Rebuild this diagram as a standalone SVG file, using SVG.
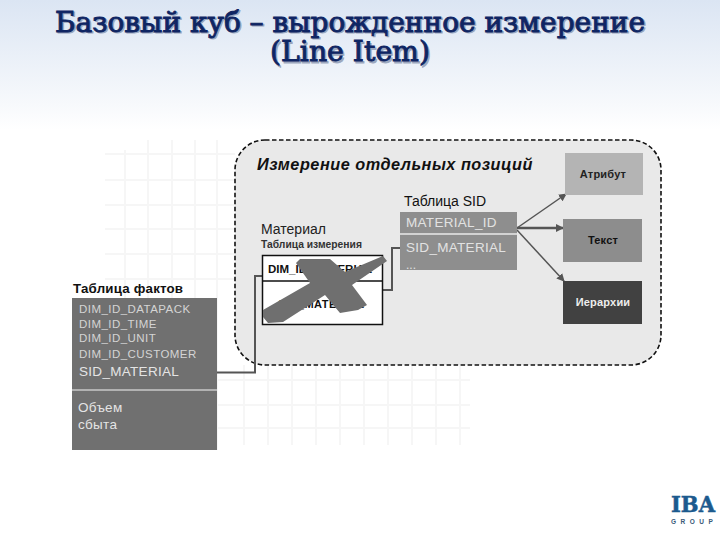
<svg xmlns="http://www.w3.org/2000/svg" width="720" height="540" viewBox="0 0 720 540">
<style>
.s{font-family:"Liberation Sans",Arial,sans-serif}
.title{font-family:"DejaVu Serif",serif;font-size:27px;fill:#0f2563;stroke:#0f2563;stroke-width:.9px;text-anchor:middle}
.shadow{fill:#5d6c8e;stroke:#5d6c8e;opacity:.55}
.fl{font-size:11.5px;fill:#d4d4d4;letter-spacing:.45px}
.wl{font-size:13.5px;fill:#e4e4e4;letter-spacing:.3px}
.box{font-size:11px;font-weight:bold;text-anchor:middle;letter-spacing:.2px}
.con{fill:none;stroke:#555}
.grid{fill:none;stroke:#f6f6f6;stroke-width:2}
</style>
<defs>
<linearGradient id="bg" x1="0" y1="0" x2="0" y2="1"><stop offset="0" stop-color="#dbe5f3"/><stop offset=".8" stop-color="#f7f9fc"/><stop offset="1" stop-color="#fff"/></linearGradient>
<marker id="ah" markerWidth="8" markerHeight="8" refX="7" refY="4" orient="auto" markerUnits="userSpaceOnUse"><path d="M0 0L8 4L0 8Z" fill="#555"/></marker>
</defs>
<rect width="720" height="540" fill="#fff"/>
<rect width="720" height="130" fill="url(#bg)"/>
<g id="title">
<text class="title shadow" x="351.500" y="33" textLength="590" lengthAdjust="spacingAndGlyphs">Базовый куб – вырожденное измерение</text>
<text class="title shadow" x="351.500" y="62.500" textLength="160" lengthAdjust="spacingAndGlyphs">(Line Item)</text>
<text class="title" x="350" y="31.500" textLength="590" lengthAdjust="spacingAndGlyphs">Базовый куб – вырожденное измерение</text>
<text class="title" x="350" y="61" textLength="160" lengthAdjust="spacingAndGlyphs">(Line Item)</text>
</g>
<path id="grid" class="grid" d="M125 150V450M148 140V450M172 140V450M195 140V450M217 140V450M244 365V445M268 365V445M292 365V445M316 365V445M340 365V445M364 365V445M388 365V445M412 365V445M436 365V445M460 365V445M105 154H235M105 180H235M105 205H235M105 229H235M105 254H235M105 279H235M217 380H470M217 405H470M217 428H470"/>
<g id="panel"><rect x="235" y="140" width="426" height="225" rx="30" fill="#e9e9e9" stroke="#111" stroke-width="1.600" stroke-dasharray="4.500 2.500"/>
<text class="s" x="257" y="170" font-size="16.300" font-weight="bold" font-style="italic" fill="#111" letter-spacing=".5">Измерение отдельных позиций</text></g>
<g id="connectors">
<path class="con" stroke-width="2" d="M217 372.500H255V276H262"/>
<path class="con" stroke-width="2" d="M383 290H392V248H400"/>
<path class="con" stroke-width="1.500" marker-end="url(#ah)" d="M517 228L566 194"/>
<path class="con" stroke-width="2.500" marker-end="url(#ah)" d="M517 228H563"/>
<path class="con" stroke-width="1.500" marker-end="url(#ah)" d="M517 230L564 281"/>
</g>
<g id="attr"><rect x="565" y="153" width="78" height="42" fill="#b4b4b4"/><text class="s box" x="603" y="178" fill="#222">Атрибут</text></g>
<g id="text"><rect x="563" y="219" width="79" height="43" fill="#8d8d8d"/><text class="s box" x="603" y="244" fill="#111">Текст</text></g>
<g id="hier"><rect x="563" y="281" width="79" height="43" fill="#414141"/><text class="s box" x="603" y="306" fill="#eee">Иерархии</text></g>
<g id="sid"><text class="s" x="404" y="206" font-size="14" fill="#111">Таблица SID</text>
<rect x="400" y="212" width="117" height="58" fill="#8e8e8e"/><path d="M400 234H517" stroke="#e8e8e8" stroke-width="1.500"/>
<text class="s" x="406" y="227" font-size="13.500" fill="#e2e2e2" letter-spacing=".3">MATERIAL_ID</text>
<text class="s" x="406" y="252" font-size="13.500" fill="#e2e2e2" letter-spacing=".3">SID_MATERIAL</text>
<text class="s" x="406" y="269" font-size="12" fill="#e2e2e2">...</text></g>
<g id="dim"><text class="s" x="261" y="234" font-size="14" fill="#222">Материал</text>
<text class="s" x="261" y="248" font-size="10.300" font-weight="bold" fill="#333">Таблица измерения</text>
<rect x="262.500" y="255.500" width="120" height="69" fill="#fff" stroke="#111" stroke-width="1.500"/><path d="M262 281H383" stroke="#111" stroke-width="1.500"/>
<text class="s" x="268" y="273" font-size="11.500" font-weight="bold" fill="#111">DIM_ID_MATERIAL</text>
<text class="s" x="278" y="308" font-size="11" font-weight="bold" fill="#111" letter-spacing=".5">SID_MATERIAL</text>
<path d="M263 310L310 283L296 263L300 259L330 259L345 272L383 256L387 261L352 285L367 305L358 310L340 313L325 295L283 322L268 323L263 317Z" fill="#6f6f6f"/></g>
<g id="fact"><text class="s" x="73" y="293" font-size="13.300" font-weight="bold" fill="#111" letter-spacing=".2">Таблица фактов</text>
<rect x="72" y="298" width="145" height="152" fill="#707070"/><path d="M72 390H217" stroke="#c8c8c8" stroke-width="1.500"/>
<text class="s fl" x="79" y="313">DIM_ID_DATAPACK</text>
<text class="s fl" x="79" y="328">DIM_ID_TIME</text>
<text class="s fl" x="79" y="342">DIM_ID_UNIT</text>
<text class="s fl" x="79" y="358">DIM_ID_CUSTOMER</text>
<text class="s wl" x="79" y="376">SID_MATERIAL</text>
<text class="s wl" x="78" y="412">Объем</text>
<text class="s wl" x="78" y="429">сбыта</text></g>
<g id="logo"><text x="671" y="512" font-family="'DejaVu Serif',serif" font-weight="bold" font-size="22" fill="#1c5a8e" stroke="#1c5a8e" stroke-width=".5" textLength="44" lengthAdjust="spacingAndGlyphs">IBA</text>
<text class="s" x="671" y="524" font-size="6.500" font-weight="bold" fill="#3a5a78" letter-spacing="4.500">GROUP</text></g>
</svg>
